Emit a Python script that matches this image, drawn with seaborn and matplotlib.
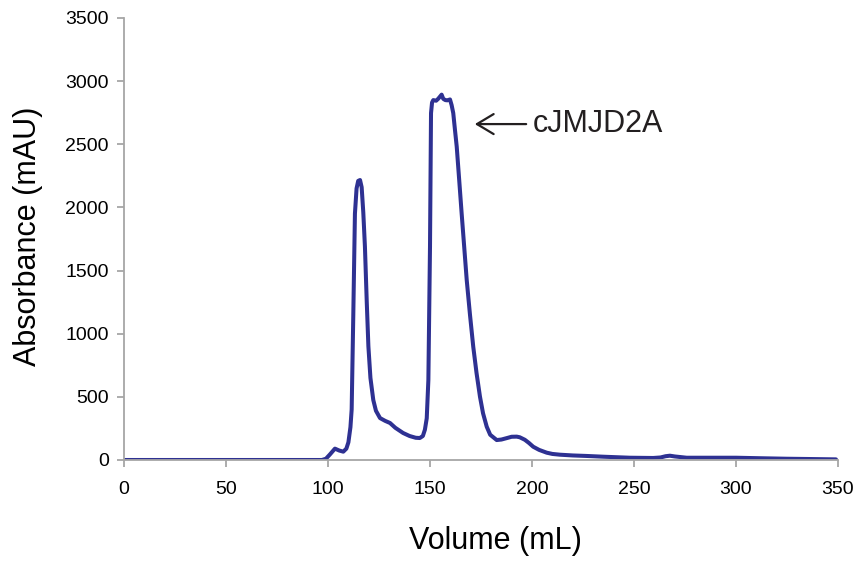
import matplotlib
matplotlib.use("Agg")
import matplotlib.pyplot as plt
import seaborn as sns
import pandas as pd

volume = [0, 50, 95, 97, 99, 101, 103.4, 105.5, 107.5, 109, 110, 111, 111.6, 112.4, 113.2,
          114, 114.8, 115.7, 116.5, 117.3, 118.1, 119, 119.8, 120.8, 122.2, 123.5, 125.5,
          128, 130.4, 133, 136.8, 140, 143, 145, 146.5, 147.5, 148.4, 149.2, 150, 150.5,
          151, 151.6, 153, 154, 155.7, 156.5, 157.5, 158.5, 159.8, 160.6, 161.4, 162.2,
          163.1, 164.3, 165.5, 166.8, 168, 169.6, 171.2, 172.8, 174.5, 176, 177.8, 179.5,
          182.7, 185, 188, 190, 192.5, 194, 196.5, 198.5, 200.6, 203.5, 207.2, 210,
          213.7, 220, 226.8, 235, 248, 259.4, 263, 265.5, 267.6, 270, 275.8, 285, 300,
          312, 324.8, 335, 349]
absorbance = [0, 0, 0, 0, 10, 45, 90, 75, 66, 90, 140, 260, 400, 1150, 1950,
              2150, 2210, 2217, 2160, 1960, 1690, 1250, 900, 650, 475, 390, 332,
              310, 293, 255, 214, 190, 176, 174, 190, 240, 330, 633, 1689, 2747,
              2830, 2850, 2845, 2860, 2893, 2860, 2850, 2848, 2855, 2810, 2747, 2620,
              2481, 2220, 1955, 1680, 1425, 1150, 897, 690, 501, 370, 264, 200,
              158, 162, 175, 184, 185, 180, 160, 135, 105, 80, 58, 48,
              42, 36, 32, 26, 18, 16, 20, 30, 34, 28, 18, 18, 18,
              14, 10, 8, 5]

x_ticks = [0, 50, 100, 150, 200, 250, 300, 350]
y_ticks = [0, 500, 1000, 1500, 2000, 2500, 3000, 3500]
annotation = "cJMJD2A"

df = pd.DataFrame({"Volume (mL)": volume, "Absorbance (mAU)": absorbance})

sns.set_theme(style="white")
plt.rcParams["font.family"] = ["Liberation Sans", "DejaVu Sans"]

fig = plt.figure(figsize=(8.64, 5.65), dpi=100)
ax = fig.add_axes([124 / 864, 1 - 460 / 565, 714 / 864, 442 / 565])

sns.lineplot(data=df, x="Volume (mL)", y="Absorbance (mAU)", ax=ax,
             color="#2E3192", linewidth=2.9, sort=False)

ax.set_xlim(0, 350)
ax.set_ylim(0, 3500)
ax.set_xticks(x_ticks)
ax.set_yticks(y_ticks)
ax.set_xticklabels([str(v) for v in x_ticks])
ax.set_yticklabels([str(v) for v in y_ticks])

for s in ["top", "right"]:
    ax.spines[s].set_visible(False)
for s in ["left", "bottom"]:
    ax.spines[s].set_color("#A6A6A6")
    ax.spines[s].set_linewidth(1.3)

ax.tick_params(axis="both", which="major", direction="out", length=5, width=1.3,
               color="#A6A6A6", labelcolor="black", labelsize=14)
ax.tick_params(axis="y", pad=6, left=True)
ax.tick_params(axis="x", pad=10, bottom=True)

ax.set_xlabel("Volume (mL)", fontsize=22, color="black")
ax.set_ylabel("Absorbance (mAU)", fontsize=22, color="black")
ax.xaxis.label.set_va("center")
ax.xaxis.set_label_coords(0.52, -0.183)
ax.yaxis.label.set_va("center")
ax.yaxis.set_label_coords(-0.1345, 0.505)

ax.annotate("", xy=(170.6, 2660), xytext=(198.5, 2660),
            arrowprops=dict(arrowstyle="->,head_length=1.0,head_width=0.6",
                            color="#231F20", lw=1.6))
ax.text(200.5, 2660, annotation, fontsize=22, va="center", ha="left", color="#231F20")

fig.savefig("out.png", dpi=100)
